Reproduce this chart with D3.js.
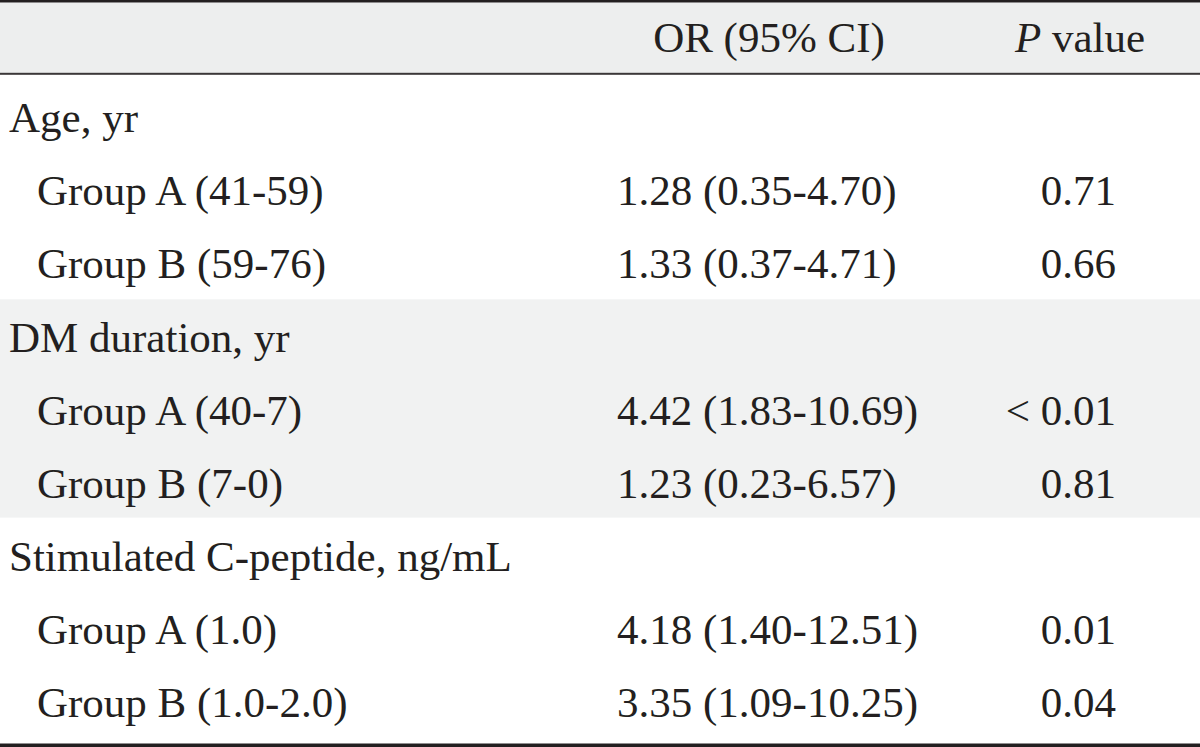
<!DOCTYPE html>
<html>
<head>
<meta charset="utf-8">
<script src="https://cdn.jsdelivr.net/npm/d3@7"></script>
<style>
  html, body { margin: 0; padding: 0; background: #fff; }
  svg { display: block; }
  text { font-family: "Liberation Serif", "Times New Roman", serif; fill: #231f20; }
</style>
</head>
<body>
<svg id="chart" width="1200" height="747"></svg>
<script>
// ---- Data ----
const headers = ["", "OR (95% CI)", "P value"];
const rowLabels = [
  "Age, yr",
  "Group A (41-59)",
  "Group B (59-76)",
  "DM duration, yr",
  "Group A (40-7)",
  "Group B (7-0)",
  "Stimulated C-peptide, ng/mL",
  "Group A (1.0)",
  "Group B (1.0-2.0)"
];
const rowIsGroup = [true, false, false, true, false, false, true, false, false];
const orValues = ["", "1.28 (0.35-4.70)", "1.33 (0.37-4.71)", "", "4.42 (1.83-10.69)", "1.23 (0.23-6.57)", "", "4.18 (1.40-12.51)", "3.35 (1.09-10.25)"];
const pValues = ["", "0.71", "0.66", "", "< 0.01", "0.81", "", "0.01", "0.04"];
const shadedSections = [[3, 5]]; // row index ranges with grey background

// ---- Layout ----
const W = 1200, H = 747;
const svg = d3.select("#chart");
const fontSize = 43;

const y = d3.scaleBand().domain(d3.range(rowLabels.length)).range([80.7, 738.6]).paddingInner(0).paddingOuter(0);

// header band
svg.append("rect").attr("x", 0).attr("y", 2.5).attr("width", W).attr("height", 71).attr("fill", "#edeeee");

// shaded sections
shadedSections.forEach(([a, b]) => {
  svg.append("rect")
    .attr("x", 0).attr("y", y(a) - 0.7)
    .attr("width", W).attr("height", y(b) + y.bandwidth() - y(a) - 1)
    .attr("fill", "#f1f2f2");
});

// rules
svg.append("rect").attr("x", 0).attr("y", 0).attr("width", W).attr("height", 2.5).attr("fill", "#231f20");
svg.append("rect").attr("x", 0).attr("y", 72.8).attr("width", W).attr("height", 2).attr("fill", "#3b3738");
svg.append("rect").attr("x", 0).attr("y", 743.5).attr("width", W).attr("height", 3.5).attr("fill", "#231f20");

// header text
const headerBase = 52;
svg.append("text").attr("x", 769).attr("y", headerBase).attr("text-anchor", "middle")
  .attr("font-size", fontSize).text(headers[1]);
const pv = svg.append("text").attr("x", 1080).attr("y", headerBase).attr("text-anchor", "middle")
  .attr("font-size", fontSize);
pv.append("tspan").attr("font-style", "italic").text("P");
pv.append("tspan").text(headers[2].slice(1));

// rows
const rows = svg.selectAll("g.row").data(rowLabels.map((l, i) => ({
  label: l, group: rowIsGroup[i], or: orValues[i], p: pValues[i], i
}))).join("g").attr("class", "row")
  .attr("transform", d => `translate(0,${y(d.i) + y.bandwidth() / 2 + 15})`);

rows.append("text").attr("x", d => d.group ? 9 : 37).attr("font-size", fontSize).text(d => d.label);
rows.append("text").attr("x", 617).attr("font-size", fontSize).text(d => d.or);
rows.append("text").attr("x", 1116).attr("text-anchor", "end").attr("font-size", fontSize).text(d => d.p);
</script>
</body>
</html>
